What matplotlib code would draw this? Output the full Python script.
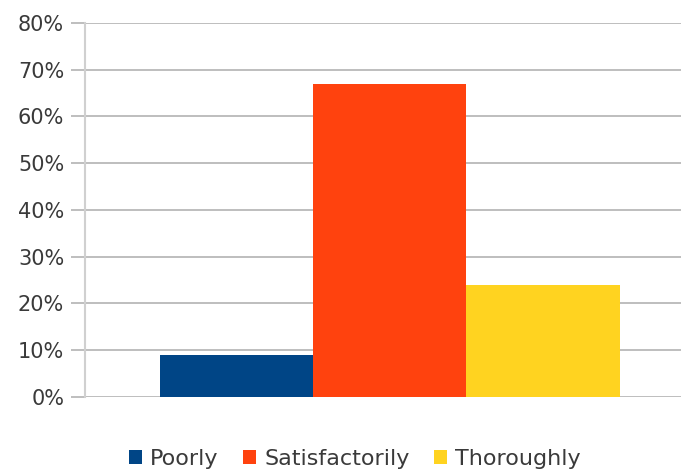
import numpy as np
import matplotlib
matplotlib.use("Agg")
import matplotlib.pyplot as plt
from matplotlib.ticker import PercentFormatter

categories = ["Poorly", "Satisfactorily", "Thoroughly"]
values = [9, 67, 24]
colors = ["#004586", "#ff420e", "#ffd320"]
yticks = [0, 10, 20, 30, 40, 50, 60, 70, 80]

plt.rcParams["font.family"] = ["DejaVu Sans"]

fig = plt.figure(figsize=(6.81, 4.72), dpi=100)
ax = fig.add_axes([0.1248, 0.1589, 0.8752, 0.7924])

for i, (cat, v, c) in enumerate(zip(categories, values, colors)):
    ax.bar(i, v, width=1.0, color=c, label=cat, zorder=3)

ax.set_ylim(0, 80)
ax.set_xlim(-0.99, 2.9)
ax.set_yticks(yticks)
ax.yaxis.set_major_formatter(PercentFormatter(decimals=0))
ax.set_xticks([])
ax.grid(axis="y", color="#b3b3b3", linewidth=1.2, zorder=0)
ax.tick_params(axis="y", length=10, color="#b3b3b3", width=1.2,
               labelsize=15, labelcolor="#3a3a3a", pad=5)
for s in ["top", "right", "bottom"]:
    ax.spines[s].set_visible(False)
ax.spines["left"].set_color("#d0d0d0")
ax.spines["left"].set_linewidth(1.5)

fig.legend(loc="lower center", bbox_to_anchor=(0.521, -0.035), ncol=3,
           frameon=False, fontsize=16, handlelength=0.6, handleheight=0.6,
           handletextpad=0.35, columnspacing=1.1, labelcolor="#3a3a3a")

fig.savefig("out.png", dpi=100)
